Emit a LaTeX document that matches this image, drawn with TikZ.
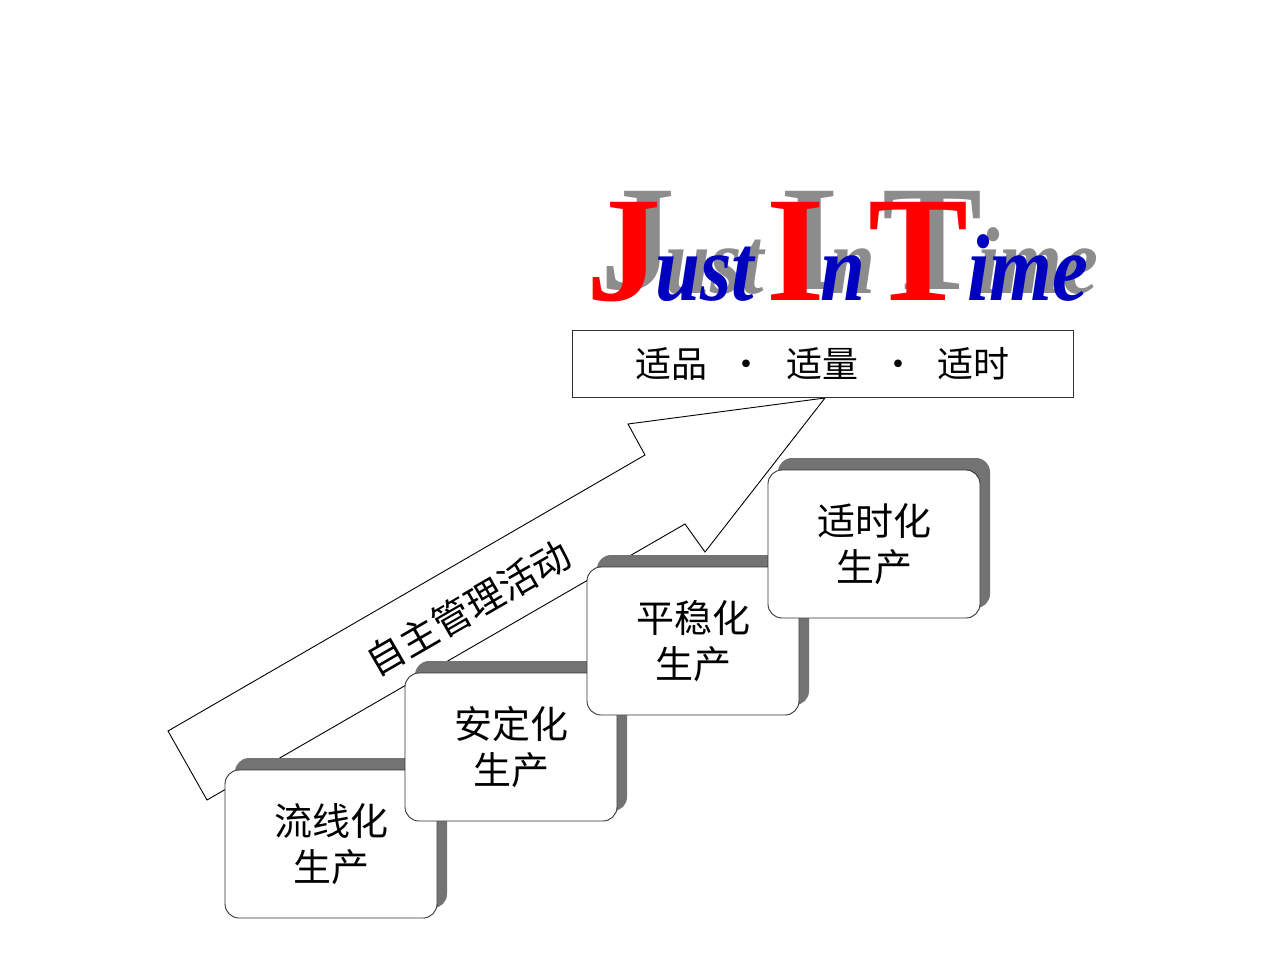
\documentclass[tikz,border=0pt]{standalone}
\usepackage{fontspec}
\newfontfamily\cjk{Noto Sans CJK SC}
\newfontfamily\tms{Liberation Serif}
\begin{document}
\begin{tikzpicture}[x=1pt,y=-1pt,
  stepbox/.style={draw=black!80,fill=white,rounded corners=14pt,line width=0.9pt,minimum width=212pt,minimum height=148pt,inner sep=0pt,font=\cjk\fontsize{38}{46}\selectfont,align=center},
  shad/.style={fill=black!55,rounded corners=14pt},
  bigcap/.style={font=\tms\bfseries\fontsize{150}{150}\selectfont,inner sep=0pt,anchor=base west},
  lowtxt/.style={font=\tms\bfseries\itshape\fontsize{95}{95}\selectfont,inner sep=0pt,anchor=base west,xscale=0.85}]
\useasboundingbox (0,0) rectangle (1280,960);
% arrow
\draw[line width=0.9pt,fill=white] (168,731) -- (645,455) -- (628,424) -- (825,398) -- (705,552) -- (685,524) -- (207,800) -- cycle;
\node[rotate=30,font=\cjk\fontsize{38}{46}\selectfont] (lbl) at (468,608) {自主管理活动};
% boxes with shadows
\foreach \nm/\x/\y/\t in {b1/331/844/{流线化\\生产},b2/511/747/{安定化\\生产},b3/693/641/{平稳化\\生产},b4/874/544/{适时化\\生产}}{
  \fill[shad] (\x-96,\y-86) rectangle (\x+116,\y+64);
  \node[stepbox] (\nm) at (\x,\y) {\t};
}
% JIT title
\node[draw=black!80,line width=0.9pt,fill=white,minimum width=501pt,minimum height=67pt,font=\cjk\fontsize{36}{40}\selectfont] (tb) at (822.5,363.5) {适品\hspace{0.6em}·\hspace{0.6em}适量\hspace{0.6em}·\hspace{0.6em}适时};
\foreach \c/\dx/\dy in {black!45/14/-10, red/0/0}{
  \node[bigcap,text=\c] (j\dx) at (586+\dx,300+\dy) {J};
  \node[bigcap,text=\c] (i\dx) at (766+\dx,300+\dy) {I};
  \node[bigcap,text=\c] (t\dx) at (868+\dx,300+\dy) {T};
}
\foreach \c/\dx/\dy in {black!45/10/-6, blue!75!black/0/0}{
  \node[lowtxt,text=\c] (u\dx) at (655+\dx,300+\dy) {ust};
  \node[lowtxt,text=\c] (n\dx) at (820+\dx,300+\dy) {n};
  \node[lowtxt,text=\c] (m\dx) at (967+\dx,300+\dy) {ime};
}
\end{tikzpicture}
\end{document}
